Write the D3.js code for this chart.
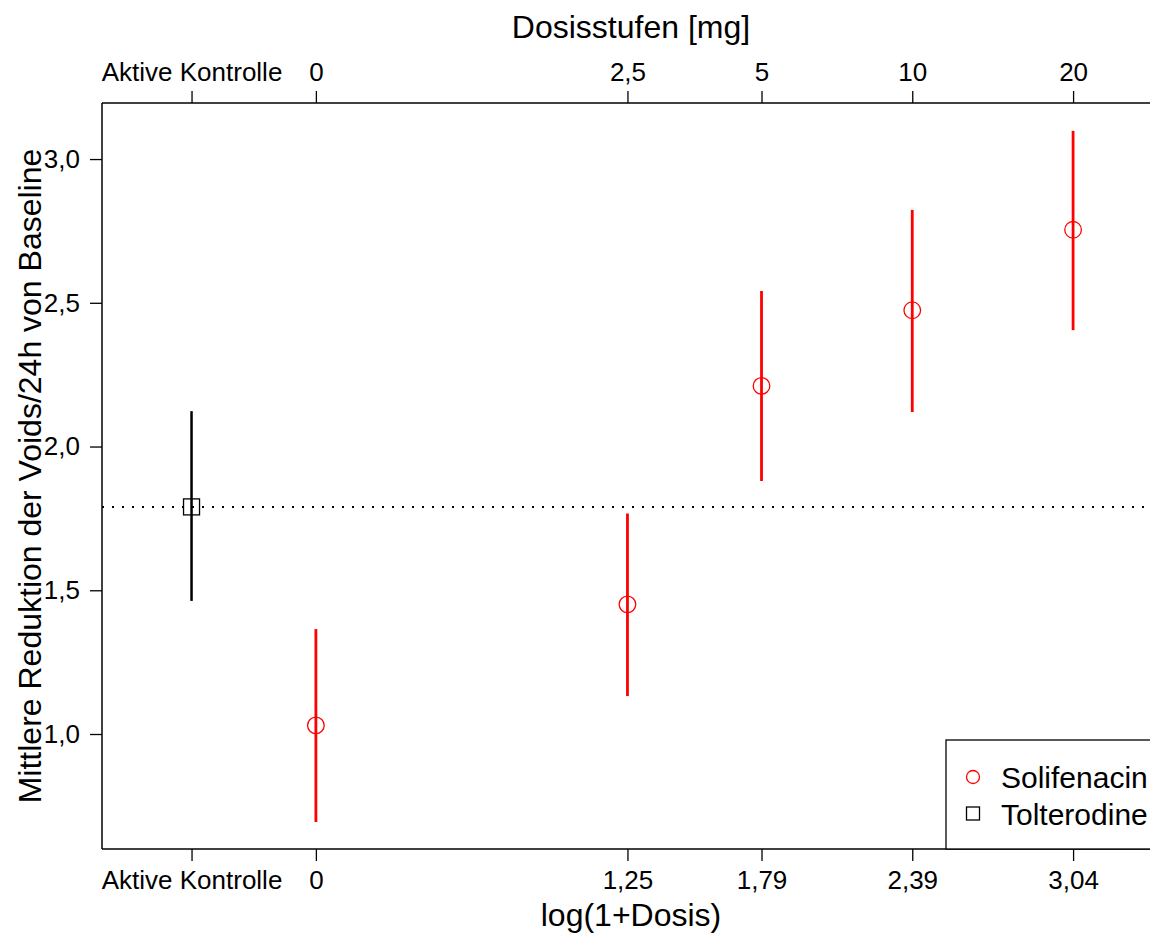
<!DOCTYPE html>
<html>
<head>
<meta charset="utf-8">
<script src="https://cdn.jsdelivr.net/npm/d3@7"></script>
<style>
  body { margin: 0; background: #fff; }
  svg, svg text { font-family: "Liberation Sans", Arial, sans-serif; }
</style>
</head>
<body>
<svg id="chart" width="1150" height="934"></svg>
<script>
// doses in mg, with their log(1+dose) positions
const doses = [0, 2.5, 5, 10, 20];
const doseLabels = ["0", "2,5", "5", "10", "20"];
const logLabels = ["0", "1,25", "1,79", "2,39", "3,04"];
const soliMean = [1.03, 1.451, 2.211, 2.474, 2.754];
const soliLower = [0.694, 1.132, 1.88, 2.12, 2.405];
const soliUpper = [1.365, 1.767, 2.541, 2.823, 3.098];

const controlPos = -0.5;
const controlLabel = "Aktive Kontrolle";
const tolMean = 1.79;
const tolLower = 1.463;
const tolUpper = 2.123;

const yTicks = [1.0, 1.5, 2.0, 2.5, 3.0];

const margin = { top: 103, left: 102, bottom: 85 };
const width = 1150, height = 934;
const plotRight = 1160;

const svg = d3.select("#chart");

const x = d3.scaleLinear().domain([-0.86, 3.394]).range([margin.left, plotRight]);
const y = d3.scaleLinear().domain([0.6, 3.195]).range([height - margin.bottom, margin.top]);

const fmt = d3.format(".1f");
const comma = (v) => fmt(v).replace(".", ",");

const points = doses.map((d, i) => ({
  x: Math.log(1 + d),
  mean: soliMean[i],
  lo: soliLower[i],
  hi: soliUpper[i],
}));

const tickPos = [controlPos, ...doses.map((d) => Math.log(1 + d))];

// top axis (dose levels)
const topAxis = d3.axisTop(x)
  .tickValues(tickPos)
  .tickFormat((d, i) => (i === 0 ? controlLabel : doseLabels[i - 1]))
  .tickSizeOuter(0)
  .tickSize(12)
  .tickPadding(10);

svg.append("g")
  .attr("transform", `translate(0,${margin.top})`)
  .call(topAxis)
  .call((g) => g.select(".domain").attr("d", `M${margin.left},0H${width}`));

// bottom axis log(1+dose)
const bottomAxis = d3.axisBottom(x)
  .tickValues(tickPos)
  .tickFormat((d, i) => (i === 0 ? controlLabel : logLabels[i - 1]))
  .tickSizeOuter(0)
  .tickSize(12)
  .tickPadding(10);

svg.append("g")
  .attr("transform", `translate(0,${height - margin.bottom})`)
  .call(bottomAxis)
  .call((g) => g.select(".domain").attr("d", `M${margin.left},0H${width}`));

// left axis
const leftAxis = d3.axisLeft(y)
  .tickValues(yTicks)
  .tickFormat(comma)
  .tickSizeOuter(0)
  .tickSize(12)
  .tickPadding(10);

svg.append("g")
  .attr("transform", `translate(${margin.left},0)`)
  .call(leftAxis)
  .call((g) => g.select(".domain").attr("d", `M0,${margin.top}V${height - margin.bottom}`));

svg.selectAll("g").attr("font-family", null);
svg.selectAll(".tick text").style("font-size", "26px").attr("fill", "#000");
svg.selectAll(".tick line").attr("stroke", "#000").attr("stroke-width", 1.3);
svg.selectAll(".domain").attr("stroke", "#000").attr("stroke-width", 1.5);

// axis titles
svg.append("text")
  .attr("x", (margin.left + plotRight) / 2).attr("y", 38)
  .attr("text-anchor", "middle")
  .style("font-size", "32px")
  .text("Dosisstufen [mg]");

svg.append("text")
  .attr("x", (margin.left + plotRight) / 2).attr("y", 926)
  .attr("text-anchor", "middle")
  .style("font-size", "32px")
  .text("log(1+Dosis)");

svg.append("text")
  .attr("transform", `translate(41,${(margin.top + height - margin.bottom) / 2}) rotate(-90)`)
  .attr("text-anchor", "middle")
  .style("font-size", "32px")
  .text("Mittlere Reduktion der Voids/24h von Baseline");

// reference line at tolterodine mean
svg.append("line")
  .attr("x1", margin.left).attr("x2", width)
  .attr("y1", y(tolMean)).attr("y2", y(tolMean))
  .attr("stroke", "#000")
  .attr("stroke-width", 2)
  .attr("stroke-dasharray", "2,8");

// tolterodine
svg.append("line")
  .attr("x1", x(controlPos)).attr("x2", x(controlPos))
  .attr("y1", y(tolLower)).attr("y2", y(tolUpper))
  .attr("stroke", "#000").attr("stroke-width", 2.5);

svg.append("rect")
  .attr("x", x(controlPos) - 8).attr("y", y(tolMean) - 8)
  .attr("width", 16).attr("height", 16)
  .attr("fill", "none").attr("stroke", "#000").attr("stroke-width", 1.3);

// solifenacin
svg.selectAll(".ci")
  .data(points)
  .enter()
  .append("line")
  .classed("ci", true)
  .attr("x1", (d) => x(d.x)).attr("x2", (d) => x(d.x))
  .attr("y1", (d) => y(d.lo)).attr("y2", (d) => y(d.hi))
  .attr("stroke", "#ff0000").attr("stroke-width", 2.8);

svg.selectAll(".pt")
  .data(points)
  .enter()
  .append("circle")
  .classed("pt", true)
  .attr("cx", (d) => x(d.x)).attr("cy", (d) => y(d.mean))
  .attr("r", 8.3)
  .attr("fill", "none").attr("stroke", "#ff0000").attr("stroke-width", 1.3);

// legend
const legend = svg.append("g");
legend.append("rect")
  .attr("x", 946).attr("y", 740)
  .attr("width", 220).attr("height", height - margin.bottom - 740)
  .attr("fill", "#fff").attr("stroke", "#000").attr("stroke-width", 1.3);

legend.append("circle")
  .attr("cx", 973).attr("cy", 777).attr("r", 6.5)
  .attr("fill", "none").attr("stroke", "#ff0000").attr("stroke-width", 1.3);
legend.append("text")
  .attr("x", 1001).attr("y", 788)
  .style("font-size", "30px")
  .text("Solifenacin");

legend.append("rect")
  .attr("x", 966.5).attr("y", 807).attr("width", 13).attr("height", 13)
  .attr("fill", "none").attr("stroke", "#000").attr("stroke-width", 1.3);
legend.append("text")
  .attr("x", 1001).attr("y", 825)
  .style("font-size", "30px")
  .text("Tolterodine");
</script>
</body>
</html>
